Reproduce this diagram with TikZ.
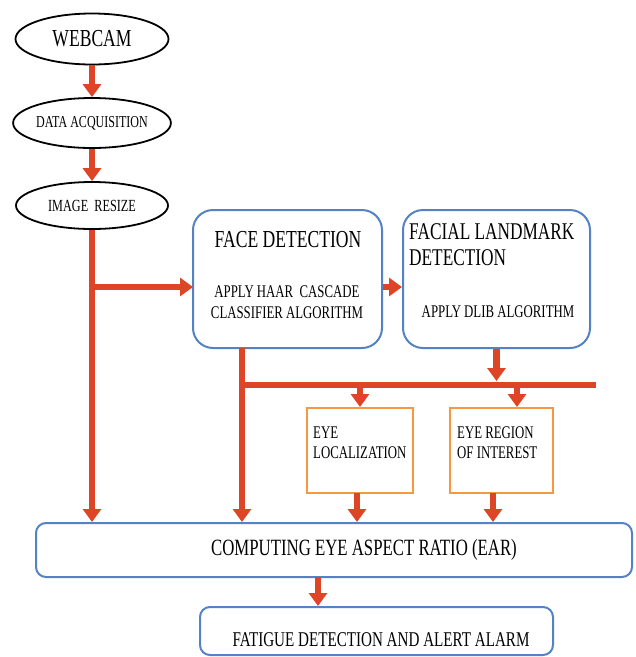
\documentclass[tikz,border=0pt]{standalone}
\usepackage{fontspec}
\setmainfont[FakeStretch=0.72]{Liberation Serif}
\usepackage{xcolor}
\usepackage{tikz}
\usetikzlibrary{arrows.meta, positioning, calc, shapes}

\definecolor{flowred}{RGB}{222,68,38}
\definecolor{boxblue}{RGB}{84,130,195}
\definecolor{boxorange}{RGB}{245,152,62}

\tikzset{
	stage/.style={ellipse, draw=black, line width=1.8pt, inner sep=0pt},
	roundbox/.style={draw=boxblue, line width=2pt, rounded corners=20pt, inner sep=0pt},
	eyebox/.style={draw=boxorange, line width=2pt, inner sep=0pt},
	label/.style={inner sep=0pt, text=black},
	flow/.style={draw=flowred, line width=6.5pt, -{Triangle[width=18pt,length=13pt]}},
	bus/.style={draw=flowred, line width=6.5pt},
}

\begin{document}
\begin{tikzpicture}[x=1pt, y=-1pt]
		\useasboundingbox (0,0) rectangle (636,657);
		
		% Input stages
		\node[stage, minimum width=153pt, minimum height=51pt, font={\fontsize{24.4}{26}\selectfont}] (cam) at (92,39) {WEBCAM};
		\node[stage, minimum width=154pt, minimum height=50pt, font={\fontsize{16.7}{18}\selectfont}] (acq) at (92,123) {DATA ACQUISITION};
		\node[stage, minimum width=152pt, minimum height=47pt, font={\fontsize{17}{18}\selectfont}] (img) at (92,205.5) {IMAGE\ \ RESIZE};
		
		% Detection boxes
		\node[roundbox, minimum width=189pt, minimum height=138pt] (face) at (287.5,279) {};
		\node[label, font={\fontsize{24.4}{26}\selectfont}] (facetitle) at (288,240) {FACE DETECTION};
		\node[label, align=center, font={\fontsize{17.8}{21}\selectfont}] (facebody) at (287,302) {APPLY HAAR\ \ CASCADE\\ CLASSIFIER ALGORITHM};
		
		\node[roundbox, minimum width=187pt, minimum height=138pt] (facial) at (496.5,279) {};
		\node[label, anchor=west, align=left, font={\fontsize{24}{26}\selectfont}] (facialtitle) at (409,245) {FACIAL LANDMARK\\ DETECTION};
		\node[label, font={\fontsize{17.8}{19}\selectfont}] (facialbody) at (498,312) {APPLY\ DLIB\ ALGORITHM};
		
		% Eye boxes
		\node[eyebox, minimum width=106pt, minimum height=85pt] (eyeloc) at (360,450.5) {};
		\node[label, anchor=west, align=left, font={\fontsize{17.8}{20}\selectfont}] (eyeloctext) at (313,443) {EYE\\ LOCALIZATION};
		\node[eyebox, minimum width=103pt, minimum height=85pt] (eyeroi) at (501.5,450.5) {};
		\node[label, anchor=west, align=left, font={\fontsize{17.8}{20}\selectfont}] (eyeroitext) at (457,443) {EYE REGION\\ OF INTEREST};
		
		% Output boxes
		\node[roundbox, rounded corners=10pt, minimum width=596pt, minimum height=54pt] (ear) at (334,550) {};
		\node[label, font={\fontsize{23.3}{25}\selectfont}] (eartext) at (364,550) {COMPUTING EYE ASPECT RATIO (EAR)};
		\node[roundbox, rounded corners=10pt, minimum width=353pt, minimum height=48pt] (alarm) at (376.5,631) {};
		\node[label, font={\fontsize{21}{23}\selectfont}] (alarmtext) at (381,640) {FATIGUE DETECTION AND ALERT ALARM};
		
		% Junction points
		\coordinate (faceIn) at (193,287);
		\coordinate (splitA) at (img.south |- faceIn);
		\coordinate (faceOut) at (242,348);
		\coordinate (busL) at (242,385);
		\coordinate (busR) at (596,385);
		\coordinate (busTop) at (496.5,381);
		\coordinate (locIn) at (360,385);
		\coordinate (roiIn) at (517,385);
		\coordinate (locOut) at (357,493);
		\coordinate (roiOut) at (493,493);
		\coordinate (earOut) at (318,577);
		
		% Flow arrows
		\draw[flow] (cam.south) -- (acq.north);
		\draw[flow] (acq.south) -- (img.north);
		\draw[flow] (img.south) -- (img.south |- ear.north);
		\draw[flow] (splitA) -- (faceIn);
		\draw[flow] (face.east |- faceIn) -- (facial.west |- faceIn);
		\draw[flow] (faceOut) -- (faceOut |- ear.north);
		\draw[bus] (busL) -- (busR);
		\draw[flow] (facial.south) -- (busTop);
		\draw[flow] (locIn) -- (locIn |- eyeloc.north);
		\draw[flow] (roiIn) -- (roiIn |- eyeroi.north);
		\draw[flow] (locOut) -- (locOut |- ear.north);
		\draw[flow] (roiOut) -- (roiOut |- ear.north);
		\draw[flow] (earOut) -- (earOut |- alarm.north);
	\end{tikzpicture}
\end{document}
